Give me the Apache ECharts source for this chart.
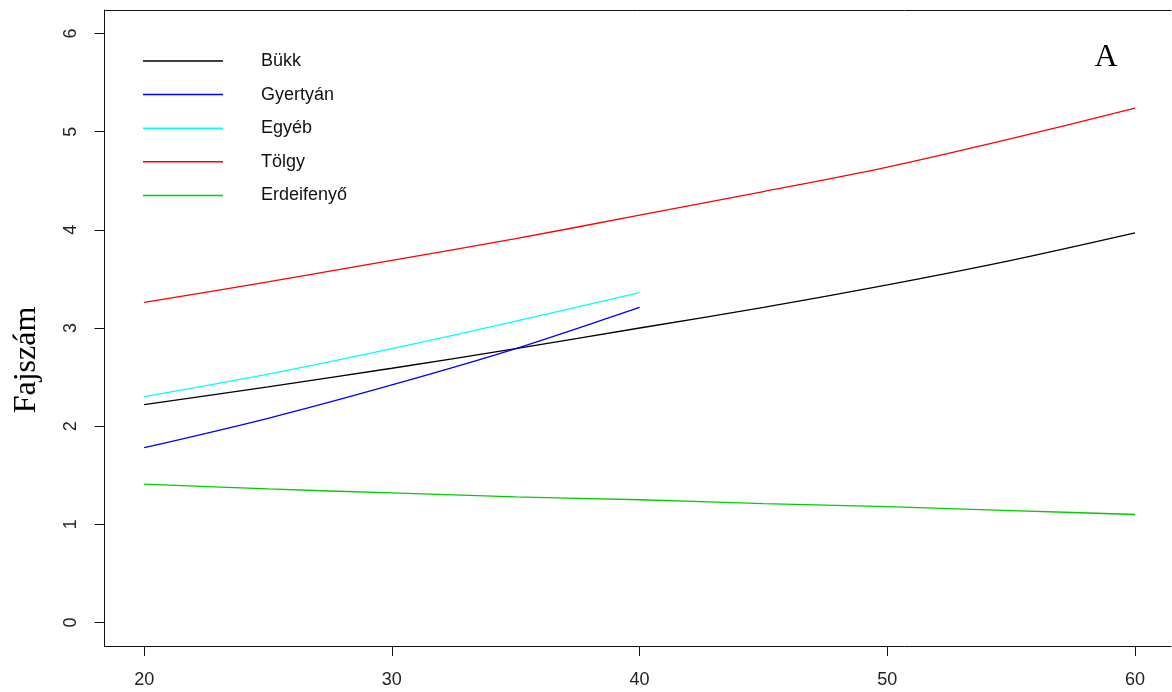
<!DOCTYPE html>
<html>
<head>
<meta charset="utf-8">
<script src="https://cdn.jsdelivr.net/npm/echarts@6/dist/echarts.min.js"></script>
<style>html,body{margin:0;padding:0;background:#fff}#c{width:1172px;height:692px}</style>
</head>
<body>
<div id="c"></div>
<script>
const xTicks = [20, 30, 40, 50, 60];
const yTicks = [0, 1, 2, 3, 4, 5, 6];
const xLong = [20, 25, 30, 35, 40, 45, 50, 55, 60];
const xShort = [20, 25, 30, 35, 40];
const bukk = [2.22, 2.40, 2.59, 2.79, 3.00, 3.21, 3.44, 3.69, 3.97];
const gyertyan = [1.78, 2.08, 2.42, 2.79, 3.21];
const egyeb = [2.30, 2.53, 2.79, 3.07, 3.36];
const tolgy = [3.26, 3.47, 3.69, 3.91, 4.15, 4.39, 4.64, 4.93, 5.24];
const erdeifenyo = [1.41, 1.36, 1.32, 1.28, 1.25, 1.21, 1.18, 1.14, 1.10];
const names = ['Bükk', 'Gyertyán', 'Egyéb', 'Tölgy', 'Erdeifenyő'];
const colors = ['#000000', '#0000FF', '#00FFFF', '#FF0000', '#00CD00'];

function pairs(xs, ys) { return xs.map((x, i) => [x, ys[i]]); }
const seriesData = [pairs(xLong, bukk), pairs(xShort, gyertyan), pairs(xShort, egyeb), pairs(xLong, tolgy), pairs(xLong, erdeifenyo)];

const chart = echarts.init(document.getElementById('c'));
chart.setOption({
  animation: false,
  backgroundColor: '#fff',
  grid: { left: 104.5, top: 10, right: 1, height: 636, show: false },
  xAxis: [{
    type: 'value', min: 18.4, max: 61.45, position: 'bottom',
    axisLine: { show: true, onZero: false, lineStyle: { color: '#111', width: 1 } },
    splitLine: { show: false },
    axisTick: { show: true, length: 10, customValues: xTicks, lineStyle: { color: '#111' } },
    axisLabel: { customValues: xTicks, margin: 25, fontFamily: 'Liberation Sans, Arial', fontSize: 18, color: '#222' }
  }, {
    type: 'value', min: 18.4, max: 61.45, position: 'top',
    axisLine: { show: true, onZero: false, lineStyle: { color: '#111', width: 1 } },
    splitLine: { show: false }, axisTick: { show: false }, axisLabel: { show: false }
  }],
  yAxis: {
    type: 'value', min: -0.24, max: 6.24,
    axisLine: { show: true, onZero: false, lineStyle: { color: '#111', width: 1 } },
    splitLine: { show: false },
    axisTick: { show: true, length: 10, customValues: yTicks, lineStyle: { color: '#111' } },
    axisLabel: { customValues: yTicks, rotate: 90, margin: 24, fontFamily: 'Liberation Sans, Arial', fontSize: 18, color: '#222' }
  },
  legend: {
    orient: 'vertical', left: 143, top: 51, padding: 0, itemWidth: 80, itemHeight: 1.5, itemGap: 13.6,
    icon: 'rect',
    data: names,
    textStyle: { fontFamily: 'Liberation Sans, Arial', fontSize: 18, color: '#111', lineHeight: 20, padding: [0, 0, 0, 33] }
  },
  graphic: [
    { type: 'text', x: 27, y: 360, rotation: Math.PI / 2, style: { text: 'Fajszám', font: '32px "Liberation Serif", serif', fill: '#000', textAlign: 'center', textVerticalAlign: 'middle' } },
    { type: 'text', x: 1106, y: 58, style: { text: 'A', font: '32px "Liberation Serif", serif', fill: '#000', textAlign: 'center', textVerticalAlign: 'middle' } }
  ],
  series: names.map((n, i) => ({
    name: n, type: 'line', data: seriesData[i], showSymbol: false, symbol: 'none', smooth: 0.3,
    color: colors[i], lineStyle: { width: 1.3, color: colors[i] }
  }))
});
</script>
</body>
</html>
